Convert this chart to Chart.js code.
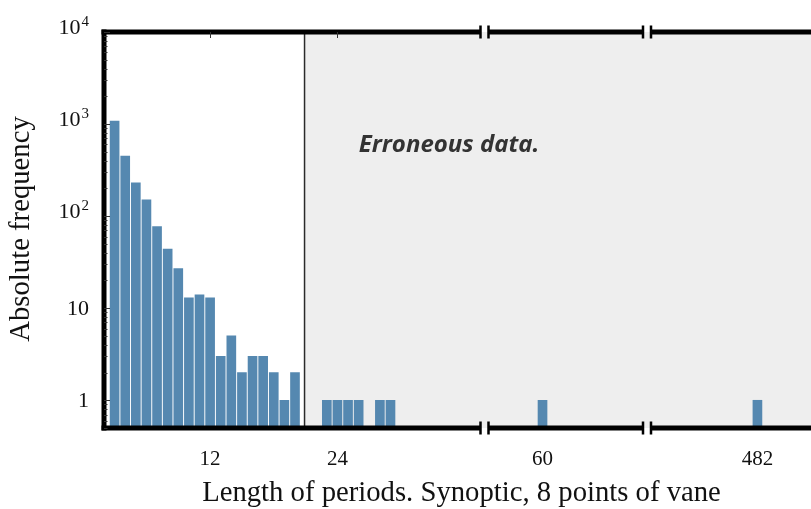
<!DOCTYPE html>
<html lang="en">
<head>
  <meta charset="UTF-8">
  <title>Length of periods - Synoptic, 8 points of vane</title>
  <script src="https://cdn.jsdelivr.net/npm/chart.js"></script>
  <style>
    html, body {
      margin: 0;
      padding: 0;
      background: #ffffff;
    }
    #chart-box {
      width: 811px;
      height: 509px;
    }
  </style>
</head>
<body>
  <div id="chart-box"><canvas id="periods-chart" width="811" height="509"></canvas></div>

  <script>
    // Period lengths and how often each one was seen
    const shortPeriods = [3, 4, 5, 6, 7, 8, 9, 10, 11, 12, 13, 14, 15, 16, 17, 18, 19, 20, 23, 24, 25, 26, 28, 29];
    const shortCounts = [1080, 450, 230, 150, 77, 44, 27, 13, 14, 13, 3, 5, 2, 3, 3, 2, 1, 2, 1, 1, 1, 1, 1, 1];
    const midPeriods = [60];
    const midCounts = [1];
    const longPeriods = [482];
    const longCounts = [1];

    // value ranges of the three pieces of the broken x axis
    const shortRange = [2, 37.86];
    const midRange = [54.53, 69.85];
    const longRange = [471.59, 487.05];

    const shortTicks = [12, 24];
    const midTicks = [60];
    const longTicks = [482];
    const yTicks = [1, 10, 100, 1000, 10000];
    const yRange = [0.5, 10000];

    // everything longer than this is flagged as bad data
    const erroneousFrom = 20.9;
    const noteText = 'Erroneous data.';
    const notePos = [26, 500];

    const xTitle = 'Length of periods. Synoptic, 8 points of vane';
    const yTitle = 'Absolute frequency';

    const BAR = '#5588b0';
    const SERIF = "'Liberation Serif', 'Times New Roman', serif";

    function segmentAxis(range, weight) {
      return {
        type: 'linear',
        position: 'bottom',
        stack: 'periods',
        stackWeight: weight,
        min: range[0],
        max: range[1],
        offset: false,
        ticks: { display: false },
        grid: { display: false, drawTicks: false },
        border: { display: false }
      };
    }

    function points(xs, ys) {
      return xs.map((x, i) => ({ x: x, y: ys[i] }));
    }

    function barSet(xs, ys, axisId) {
      return {
        data: points(xs, ys),
        xAxisID: axisId,
        backgroundColor: BAR,
        borderWidth: 0,
        barThickness: 9,
        grouped: false
      };
    }

    function line(ctx, x1, y1, x2, y2) {
      ctx.beginPath();
      ctx.moveTo(x1, y1);
      ctx.lineTo(x2, y2);
      ctx.stroke();
    }

    // shading, spines with break marks, ticks and all the text
    const brokenAxes = {
      id: 'brokenAxes',
      beforeDatasetsDraw(chart) {
        const { ctx, chartArea: a, scales } = chart;
        const xs = scales.xShort.getPixelForValue(erroneousFrom);
        ctx.save();
        ctx.fillStyle = '#eeeeee';
        ctx.fillRect(xs, a.top, a.right - xs, a.bottom - a.top);
        ctx.strokeStyle = '#2a2a2a';
        ctx.lineWidth = 1.5;
        line(ctx, xs, a.top, xs, a.bottom);
        ctx.restore();
      },
      afterDatasetsDraw(chart) {
        const { ctx, chartArea: a, scales } = chart;
        const y = scales.y;
        const b1 = scales.xShort.right;
        const b2 = scales.xMid.right;
        const half = 4;
        const pieces = [[a.left - 2.5, b1 - half], [b1 + half, b2 - half], [b2 + half, a.right]];

        ctx.save();
        ctx.strokeStyle = '#000000';
        ctx.fillStyle = '#000000';
        ctx.lineWidth = 5;
        ctx.lineCap = 'butt';
        pieces.forEach(([x1, x2]) => {
          line(ctx, x1, a.top, x2, a.top);
          line(ctx, x1, a.bottom, x2, a.bottom);
        });
        line(ctx, a.left, a.top - 2.5, a.left, a.bottom + 2.5);

        // end caps either side of each break
        [b1 - half, b1 + half, b2 - half, b2 + half].forEach((x) => {
          [a.top, a.bottom].forEach((yy) => {
            ctx.fillRect(x - 1.25, yy - 6.5, 2.5, 13);
          });
        });

        // inward ticks on the left spine
        ctx.strokeStyle = '#333333';
        ctx.lineWidth = 1;
        yTicks.forEach((v) => {
          const py = Math.round(y.getPixelForValue(v)) + 0.5;
          line(ctx, a.left, py, a.left + 6, py);
        });
        for (let k = -1; k < 4; k++) {
          for (let m = 2; m <= 9; m++) {
            const v = m * Math.pow(10, k);
            if (v < yRange[0] || v > yRange[1]) continue;
            const py = Math.round(y.getPixelForValue(v)) + 0.5;
            line(ctx, a.left, py, a.left + 3.5, py);
          }
        }
        shortTicks.forEach((t) => {
          const px = Math.round(scales.xShort.getPixelForValue(t)) + 0.5;
          line(ctx, px, a.top, px, a.top + 6);
        });

        // x tick labels
        ctx.fillStyle = '#111111';
        ctx.font = '21px ' + SERIF;
        ctx.textAlign = 'center';
        ctx.textBaseline = 'middle';
        [['xShort', shortTicks], ['xMid', midTicks], ['xLong', longTicks]].forEach(([id, list]) => {
          list.forEach((t) => {
            ctx.fillText(String(t), scales[id].getPixelForValue(t), a.bottom + 31);
          });
        });

        // y tick labels, powers of ten written with a raised exponent
        const right = a.left - 15;
        ctx.textBaseline = 'alphabetic';
        ctx.textAlign = 'right';
        yTicks.forEach((v) => {
          const py = y.getPixelForValue(v);
          const exp = Math.round(Math.log10(v));
          ctx.font = '22px ' + SERIF;
          if (exp < 2) {
            ctx.fillText(String(v), right, py + 7);
            return;
          }
          ctx.font = '15px ' + SERIF;
          const sup = String(exp);
          const w = ctx.measureText(sup).width;
          ctx.fillText(sup, right, py - 6);
          ctx.font = '22px ' + SERIF;
          ctx.fillText('10', right - w - 1, py + 2);
        });

        // axis titles
        ctx.font = '28.7px ' + SERIF;
        ctx.textAlign = 'center';
        ctx.fillText(xTitle, (a.left + a.right) / 2 + 4, 501);
        ctx.save();
        ctx.translate(29, (a.top + a.bottom) / 2 - 1);
        ctx.rotate(-Math.PI / 2);
        ctx.fillText(yTitle, 0, 0);
        ctx.restore();

        // note over the shaded part
        ctx.fillStyle = '#333333';
        ctx.font = "italic 700 24px 'Open Sans', 'DejaVu Sans', sans-serif";
        ctx.textAlign = 'left';
        ctx.fillText(noteText, scales.xShort.getPixelForValue(notePos[0]), y.getPixelForValue(notePos[1]));
        ctx.restore();
      }
    };

    const ctx = document.getElementById('periods-chart').getContext('2d');
    const periodsChart = new Chart(ctx, {
      type: 'bar',
      data: {
        datasets: [
          barSet(shortPeriods, shortCounts, 'xShort'),
          barSet(midPeriods, midCounts, 'xMid'),
          barSet(longPeriods, longCounts, 'xLong')
        ]
      },
      options: {
        responsive: false,
        animation: false,
        devicePixelRatio: 1,
        layout: {
          padding: { left: 104, top: 32, right: 0, bottom: 81 }
        },
        scales: {
          xShort: segmentAxis(shortRange, 380.5),
          xMid: segmentAxis(midRange, 162.5),
          xLong: segmentAxis(longRange, 164),
          y: {
            type: 'logarithmic',
            position: 'left',
            min: yRange[0],
            max: yRange[1],
            ticks: { display: false },
            grid: { display: false, drawTicks: false },
            border: { display: false }
          }
        },
        plugins: {
          legend: { display: false },
          tooltip: { enabled: false }
        }
      },
      plugins: [brokenAxes]
    });
  </script>
</body>
</html>
